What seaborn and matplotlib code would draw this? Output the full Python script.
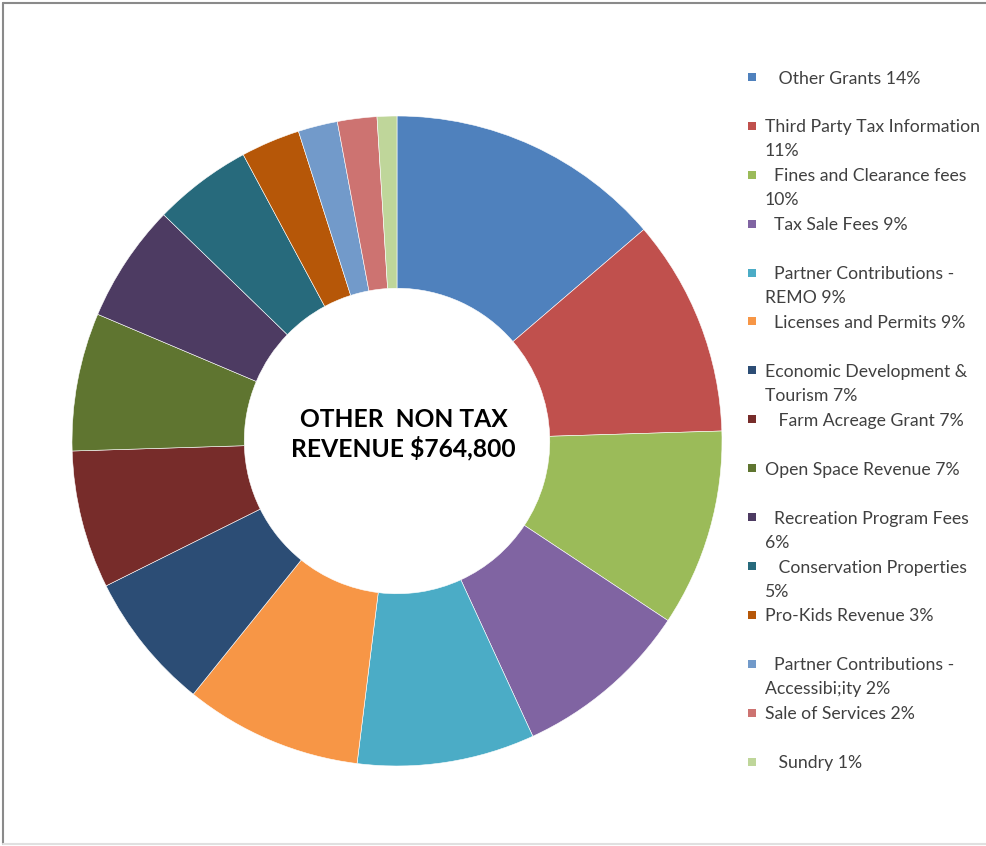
import matplotlib
matplotlib.use("Agg")
import matplotlib.pyplot as plt
from matplotlib.patches import Rectangle
from matplotlib.lines import Line2D
import seaborn as sns

# Revenue categories (legend text, with the original indents and wraps)
categories = [
    "   Other Grants 14%",
    "Third Party Tax Information\n11%",
    "  Fines and Clearance fees\n10%",
    "  Tax Sale Fees 9%",
    "  Partner Contributions -\nREMO 9%",
    "  Licenses and Permits 9%",
    "Economic Development &\nTourism 7%",
    "   Farm Acreage Grant 7%",
    "Open Space Revenue 7%",
    "  Recreation Program Fees\n6%",
    "   Conservation Properties\n5%",
    "Pro-Kids Revenue 3%",
    "  Partner Contributions -\nAccessibi;ity 2%",
    "Sale of Services 2%",
    "   Sundry 1%",
]
shares = [14, 11, 10, 9, 9, 9, 7, 7, 7, 6, 5, 3, 2, 2, 1]
colors = [
    "#4F81BD", "#C0504D", "#9BBB59", "#8064A2", "#4BACC6", "#F79646",
    "#2C4D75", "#772C2A", "#5F7530", "#4D3B62", "#276A7C", "#B65708",
    "#729ACA", "#CD7371", "#BFD69A",
]
center_title = "OTHER  NON TAX\nREVENUE $764,800"

sns.set_theme(style="white")
plt.rcParams["font.family"] = ["Lato", "DejaVu Sans"]
palette = sns.color_palette(colors)

W, H = 987, 846
fig = plt.figure(figsize=(W / 100, H / 100), dpi=100)
fig.patch.set_facecolor("white")

# Donut placement in pixels
cx, cy, R = 397, 441, 325
ax = fig.add_axes([(cx - R) / W, (H - cy - R) / H, 2 * R / W, 2 * R / H])
ax.pie(
    shares,
    colors=palette,
    startangle=90,
    counterclock=False,
    radius=1.0,
    wedgeprops=dict(width=0.53, edgecolor="white", linewidth=0.4),
)
ax.set_xlim(-1, 1)
ax.set_ylim(-1, 1)
ax.set_aspect("auto")
ax.axis("off")

ax.text(0.02, 0.02, center_title, ha="center", va="center",
        fontsize=17.7, fontweight="bold", color="black", linespacing=1.25)

# Legend drawn as a column of swatches with wrapped labels
sq = 8
x_sq, x_txt = 748, 765
y_first, step = 77, 48.9
for i, (lab, col) in enumerate(zip(categories, palette)):
    y = y_first + i * step
    fig.add_artist(Rectangle(((x_sq) / W, (H - y - sq / 2) / H), sq / W, sq / H,
                             transform=fig.transFigure, facecolor=col,
                             edgecolor="none"))
    lines = lab.split("\n")
    for j, line in enumerate(lines):
        fig.text(x_txt / W, (H - y - j * 24) / H, line, ha="left",
                 va="center_baseline", fontsize=12.7, color="#404040")

# Frame lines
fig.add_artist(Line2D([3 / W, 1], [1 - 3 / H, 1 - 3 / H], color="#8a8a8a",
                      lw=1.5, transform=fig.transFigure))
fig.add_artist(Line2D([3 / W, 3 / W], [2 / H, 1 - 3 / H], color="#8a8a8a",
                      lw=1.5, transform=fig.transFigure))
fig.add_artist(Line2D([3 / W, 1], [2 / H, 2 / H], color="#e0e0e0",
                      lw=1.5, transform=fig.transFigure))

fig.savefig("out.png", dpi=100, facecolor="white")
